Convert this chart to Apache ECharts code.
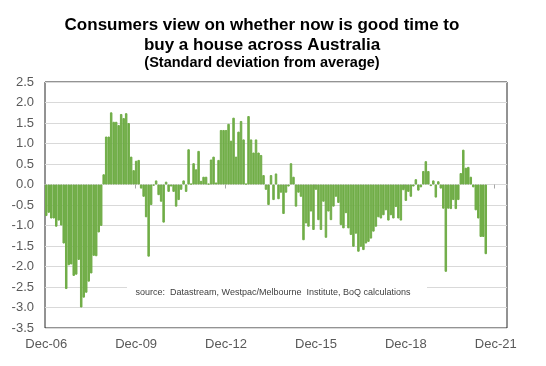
<!DOCTYPE html>
<html><head><meta charset="utf-8">
<script src="https://cdn.jsdelivr.net/npm/echarts@6/dist/echarts.min.js"></script>
<style>html,body{margin:0;padding:0;background:#fff}#c{width:546px;height:366px}</style>
</head><body><div id="c"></div>
<script>
// Category months: Dec-06 onward (monthly), axis runs a few months past the data
const monthNames = ['Jan','Feb','Mar','Apr','May','Jun','Jul','Aug','Sep','Oct','Nov','Dec'];
const startYear = 2006, startMonthIndex = 11, categoryCount = 185;
const categories = [];
for (let k = 0; k < categoryCount; k++) {
  const m = (startMonthIndex + k) % 12;
  const y = startYear + Math.floor((startMonthIndex + k) / 12);
  categories.push(monthNames[m] + '-' + String(y % 100).padStart(2, '0'));
}

// Standard deviations from average, Dec-06 .. Aug-21
const values2006to2009 = [-0.77, -0.69, -0.83, -0.83, -1.03, -0.88, -1.0, -1.44, -2.55, -1.97, -1.95, -2.23, -2.2, -1.84, -3.0, -2.76, -2.64, -2.37, -2.17, -1.74, -1.75, -1.17, -1.01,
  0.25, 1.17, 1.17, 1.76, 1.53, 1.53, 1.45, 1.72, 1.62, 1.74, 1.5, 0.68, 0.35, 0.58, 0.6,
  -0.1, -0.3, -0.8, -1.76];
const values2010to2014 = [-0.5, -0.03, 0.1, -0.26, -0.42, -0.93, 0.07, -0.18, -0.05, -0.18, -0.54, -0.38, -0.13, 0.1, -0.18, 0.86, 0.02, 0.52, 0.37, 0.82, 0.09, 0.19, 0.19, 0.02, 0.61, 0.68, 0.05, 0.6, 1.33, 1.33, 1.33, 1.48, 1.07, 1.63, 0.68, 1.29, 1.55, 1.1, 0.02, 1.67, 1.1, 0.78, 1.1, 0.78];
const values2014to2017 = [0.72, 0.23, -0.13, -0.5, 0.23, -0.38, 0.27, -0.36, -0.2, -0.72, -0.2, -0.05, 0.52, 0.19, -0.54, -0.2, -0.3, -1.36, -0.95, -1.03, -0.66, -1.11, -0.13, -0.87, -1.11, -0.42, -1.3, -0.66, -0.87, -0.54, -0.3, -0.45, -0.99, -1.07, -0.7, -1.07, -1.23, -1.52, -1.2, -1.64, -1.52, -1.6, -1.44, -1.4];
const values2017to2021 = [-1.32, -1.15, -1.03, -0.8, -0.83, -0.75, -0.63, -0.88, -0.75, -0.83, -0.55, -0.83, -0.88, -0.14, -0.4, -0.18, -0.3, -0.05, 0.13, -0.15, -0.07, 0.33, 0.57, 0.33, -0.04, 0.1, -0.32, 0.08, -0.1, -0.59, -2.13, -0.59, -0.6, -0.38, -0.6, -0.38, 0.28, 0.85, 0.41, 0.43, 0.19, -0.07, -0.63, -0.83, -1.28, -1.28, -1.7];
const values = [].concat(values2006to2009, values2010to2014, values2014to2017, values2017to2021);

const yMin = -3.5, yMax = 2.5, yInterval = 0.5;
const labelEvery = 36;

const titleLines = ['Consumers view on whether now is good time to', 'buy a house across Australia', '(Standard deviation from average)'];
const sourceText = 'source:  Datastream, Westpac/Melbourne  Institute, BoQ calculations';

const FONT = 'Liberation Sans, Arial, sans-serif';
const chart = echarts.init(document.getElementById('c'), null, {renderer: 'canvas'});
chart.setOption({
  animation: false,
  backgroundColor: '#fff',
  grid: {left: 45, right: 39, top: 82, bottom: 38, show: true, borderColor: '#262626', borderWidth: 1, backgroundColor: 'transparent'},
  xAxis: [{
    type: 'category', data: categories, boundaryGap: true, position: 'bottom',
    axisLine: {show: true, onZero: true, lineStyle: {color: '#d9d9d9'}},
    axisTick: {show: true, interval: labelEvery - 1, length: 4, lineStyle: {color: '#a6a6a6'}},
    axisLabel: {show: false}, splitLine: {show: false}
  }, {
    type: 'category', data: categories, boundaryGap: true, position: 'bottom',
    axisLine: {show: false, onZero: false}, axisTick: {show: false},
    axisLabel: {show: true, interval: labelEvery - 1, margin: 10, color: '#595959', fontSize: 13, fontFamily: FONT},
    splitLine: {show: false}
  }],
  yAxis: {
    type: 'value', min: yMin, max: yMax, interval: yInterval,
    axisLine: {show: false}, axisTick: {show: false},
    axisLabel: {margin: 11, color: '#595959', fontSize: 13, fontFamily: FONT, formatter: v => v.toFixed(1)},
    splitLine: {show: true, lineStyle: {color: '#d9d9d9', width: 1}}
  },
  series: [{
    type: 'bar', xAxisIndex: 0, data: values, barCategoryGap: '0%',
    itemStyle: {color: '#70ad47', borderColor: '#70ad47', borderWidth: 1}, z: 2
  }],
  graphic: [
    {type: 'text', z: 100, x: 262, y: 25, style: {text: titleLines[0], fill: '#000', font: 'bold 17px ' + FONT, textAlign: 'center', textVerticalAlign: 'middle'}},
    {type: 'text', z: 100, x: 262, y: 45, style: {text: titleLines[1], fill: '#000', font: 'bold 17px ' + FONT, textAlign: 'center', textVerticalAlign: 'middle'}},
    {type: 'text', z: 100, x: 262, y: 63, style: {text: titleLines[2], fill: '#000', font: 'bold 14.5px ' + FONT, textAlign: 'center', textVerticalAlign: 'middle'}},
    {type: 'rect', z: 99, shape: {x: 127, y: 280, width: 300, height: 22}, style: {fill: '#fff'}},
    {type: 'text', z: 100, x: 273, y: 293, style: {text: sourceText, fill: '#404040', font: '9px ' + FONT, textAlign: 'center', textVerticalAlign: 'middle'}}
  ]
});
</script></body></html>
